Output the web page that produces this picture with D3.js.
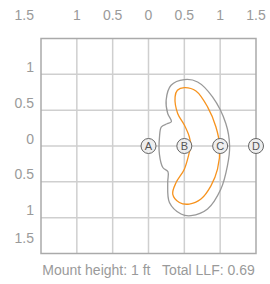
<!DOCTYPE html>
<html>
<head>
<meta charset="utf-8">
<script src="https://cdn.jsdelivr.net/npm/d3@7"></script>
<style>
  body { margin: 0; background: #fff; }
  text { font-family: "Liberation Sans", Arial, sans-serif; }
</style>
</head>
<body>
<svg id="chart" width="270" height="284"></svg>
<script>
// Light distribution footprint: iso-lux contours around a fixture,
// reference points A..D along the centre line.

const xTicks = [-1.5, -1, -0.5, 0, 0.5, 1, 1.5];
const yTicks = [1.5, 1, 0.5, 0, -0.5, -1, -1.5];

const refPoints = [
    { label: 'A', x: 0, y: 0 },
    { label: 'B', x: 0.5, y: 0 },
    { label: 'C', x: 1, y: 0 },
    { label: 'D', x: 1.5, y: 0 },
];

// outer contour (gray)
const outerContour = [
    [0.5, 0.926], [0.685, 0.893], [0.893, 0.685], [1.079, 0.315], [1.132, 0],
    [1.101, -0.278], [1.01, -0.601], [0.824, -0.879], [0.593, -0.972], [0.454, -0.949],
    [0.292, -0.788], [0.268, -0.51], [0.272, -0.36], [0.2, -0.3], [0.153, -0.12],
    [0.153, 0.12], [0.18, 0.268], [0.26, 0.31], [0.32, 0.34], [0.268, 0.454],
    [0.246, 0.639], [0.315, 0.847],
];

// inner contour (orange)
const innerContour = [
    [0.5, 0.815], [0.662, 0.768], [0.824, 0.546], [0.94, 0.268], [0.993, 0],
    [0.963, -0.324], [0.871, -0.556], [0.732, -0.74], [0.569, -0.81], [0.431, -0.788],
    [0.338, -0.671], [0.385, -0.51], [0.5, -0.324], [0.569, -0.093], [0.59, 0],
    [0.569, 0.129], [0.5, 0.292], [0.407, 0.454], [0.371, 0.685], [0.403, 0.778],
];

const footer = 'Mount height: 1 ft\u00a0\u00a0\u00a0Total LLF: 0.69';

const svg = d3.select('#chart');
const plotLeft = 41, plotRight = 256, plotTop = 38.5, plotBottom = 253.5;

const x = d3.scaleLinear().domain([-1.5, 1.5]).range([plotLeft, plotRight]);
const y = d3.scaleLinear().domain([1.5, -1.5]).range([plotTop, plotBottom]);
const fmt = d => String(Math.abs(d));

// grid
const grid = svg.append('g').attr('class', 'grid');
grid.selectAll('line.v').data(xTicks.slice(1, -1))
    .enter().append('line')
    .attr('x1', d => x(d)).attr('x2', d => x(d))
    .attr('y1', plotTop).attr('y2', plotBottom)
    .attr('stroke', '#cfcfcf').attr('stroke-width', 1.5);
grid.selectAll('line.h').data(yTicks.slice(1, -1))
    .enter().append('line')
    .attr('y1', d => y(d)).attr('y2', d => y(d))
    .attr('x1', plotLeft).attr('x2', plotRight)
    .attr('stroke', '#cfcfcf').attr('stroke-width', 1.5);
grid.append('rect')
    .attr('x', plotLeft).attr('y', plotTop)
    .attr('width', plotRight - plotLeft).attr('height', plotBottom - plotTop)
    .attr('fill', 'none').attr('stroke', '#aaa').attr('stroke-width', 1.5);

// top labels
svg.append('g').selectAll('text').data(xTicks)
    .enter().append('text')
    .attr('x', (d, i) => i === 0 ? 34 : x(d))
    .attr('y', 20)
    .attr('text-anchor', (d, i) => i === 0 ? 'end' : 'middle')
    .attr('fill', '#9a9a9a').style('font-size', '14px')
    .text(fmt);

// left labels (top one is shared with the x row)
svg.append('g').selectAll('text').data(yTicks.slice(1))
    .enter().append('text')
    .attr('x', 34)
    .attr('y', d => Math.min(y(d) - 2.5, plotBottom - 10.5))
    .attr('text-anchor', 'end')
    .attr('fill', '#9a9a9a').style('font-size', '14px')
    .text(fmt);

// contours
const contourLine = d3.line()
    .x(d => x(d[0]))
    .y(d => y(d[1]))
    .curve(d3.curveCatmullRomClosed.alpha(0.5));

svg.append('path')
    .attr('d', contourLine(outerContour))
    .attr('fill', 'none').attr('stroke', '#999').attr('stroke-width', 1.3);
svg.append('path')
    .attr('d', contourLine(innerContour))
    .attr('fill', 'none').attr('stroke', '#f7931e').attr('stroke-width', 1.3);

// reference points
const pts = svg.append('g').selectAll('g').data(refPoints)
    .enter().append('g')
    .attr('transform', d => `translate(${x(d.x)},${y(d.y)})`);
pts.append('circle')
    .attr('r', 7.5)
    .attr('fill', '#eee').attr('stroke', '#666').attr('stroke-width', 1);
pts.append('text')
    .attr('text-anchor', 'middle').attr('dy', '0.36em')
    .attr('fill', '#555').style('font-size', '11px')
    .text(d => d.label);

svg.append('text')
    .attr('x', 148.5).attr('y', 275)
    .attr('text-anchor', 'middle')
    .attr('fill', '#9a9a9a').style('font-size', '14px')
    .text(footer);
</script>
</body>
</html>
